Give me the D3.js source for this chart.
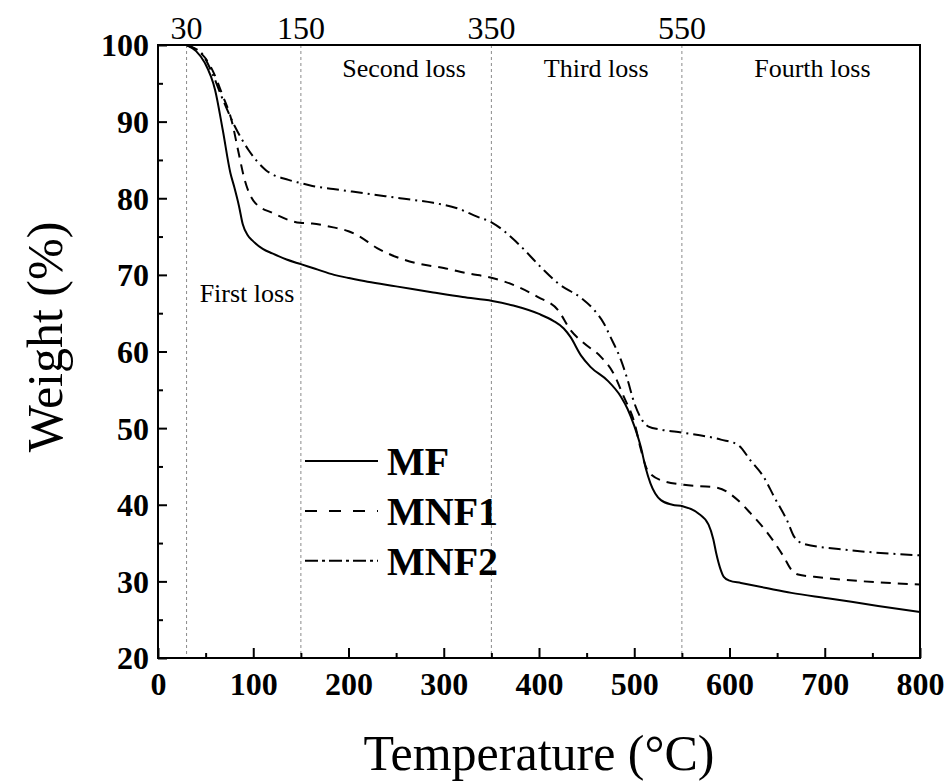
<!DOCTYPE html>
<html>
<head>
<meta charset="utf-8">
<script src="https://cdn.jsdelivr.net/npm/d3@7"></script>
<style>
html,body{margin:0;padding:0;background:#fff;}
svg{display:block;font-family:"Liberation Serif","Times New Roman",serif;}
</style>
</head>
<body>
<svg id="chart" width="950" height="784"></svg>
<script>
// ---- data ----
const seriesNames = ["MF", "MNF1", "MNF2"];
const mfTemp = [30,40,49,60,68,76,80,85,89,94,99,110,120,135,150,165,185,200,220,250,289,320,351,373,400,415,426,433,444,454,472,486,493,500,507,512,517,528,540,551,567,578,583,586,590,594,600,612,640,665,703,756,800];
const mfWeight = [100,99.2,97.7,94.1,88.9,83.3,81.5,79.0,76.6,75.2,74.5,73.4,72.8,72.0,71.4,70.8,70.0,69.6,69.1,68.5,67.7,67.1,66.6,66.0,64.9,64.0,63.0,61.9,59.5,58.0,56.2,54.1,52.5,50.3,47.5,44.8,42.8,40.6,40.0,39.8,38.9,37.4,35.5,33.7,31.8,30.6,30.1,29.8,29.1,28.5,27.8,26.8,26.0];
const mnf1Temp = [30,40,49,58,67,78,84,91,102,120,149,162,184,200,209,230,251,272,300,325,351,373,399,420,433,447,465,478,489,500,507,514,528,552,588,605,622,640,657,665,672,689,741,800];
const mnf1Weight = [100,99.4,98.4,96.5,93.7,89.8,86.3,82.4,79.4,78.1,76.8,76.7,76.2,75.7,75.2,73.5,72.3,71.5,70.9,70.2,69.6,68.7,67.1,65.4,62.8,61.1,59.3,57.2,54.1,50.8,47.2,44.5,43.2,42.6,42.2,41.0,38.9,36.3,33.2,31.5,30.9,30.6,30.0,29.6];
const mnf2Temp = [30,38,46,57,67,81,95,113,137,149,162,184,220,254,289,314,335,351,377,402,420,444,458,468,475,486,493,500,507,515,528,551,591,609,622,636,647,661,668,678,724,800];
const mnf2Weight = [100,99.6,98.9,96.3,93.2,89.3,86.3,83.7,82.4,82.0,81.6,81.2,80.6,80.0,79.4,78.7,77.6,76.8,74.2,71.0,68.9,67.0,65.4,63.7,61.9,58.9,56.3,53.3,51.3,50.2,49.8,49.4,48.5,47.8,45.8,43.6,41.0,37.8,35.8,34.9,34.1,33.4];
const xTicks = [0,100,200,300,400,500,600,700,800];
const xMinorTicks = [50,150,250,350,450,550,650,750];
const yTicks = [20,30,40,50,60,70,80,90,100];
const yMinorTicks = [25,35,45,55,65,75,85,95];
const stageBounds = [30,150,350,550];
const stageLabels = ["First loss","Second loss","Third loss","Fourth loss"];
const stageLabelTemp = [93.4,258.3,460,687];
const stageLabelWeight = [66.5,95.8,95.8,95.8];
const legendWeight = [45.7,39.2,32.7];

// ---- layout ----
const svg = d3.select("#chart");
const m = {left:158, right:920, top:45, bottom:658};
const x = d3.scaleLinear().domain([0,800]).range([m.left, m.right]);
const y = d3.scaleLinear().domain([20,100]).range([m.bottom, m.top]);

// stage boundary lines
svg.append("g").selectAll("line").data(stageBounds).join("line")
  .attr("x1", d=>x(d)).attr("x2", d=>x(d))
  .attr("y1", m.top).attr("y2", m.bottom)
  .attr("stroke", "#8a8a8a").attr("stroke-width", 1).attr("stroke-dasharray", "3,3");

// top labels for stage bounds
svg.append("g").selectAll("text").data(stageBounds).join("text")
  .attr("x", d=>x(d)).attr("y", m.top-6)
  .attr("text-anchor","middle").attr("font-size", 32).text(d=>d);

// stage labels
svg.append("g").selectAll("text").data(stageLabels).join("text")
  .attr("x", (d,i)=>x(stageLabelTemp[i]))
  .attr("y", (d,i)=>y(stageLabelWeight[i]))
  .attr("text-anchor","middle").attr("font-size", 26).text(d=>d);

// series
const series = [
  {name: seriesNames[0], t: mfTemp, w: mfWeight, dash: null},
  {name: seriesNames[1], t: mnf1Temp, w: mnf1Weight, dash: "10,7"},
  {name: seriesNames[2], t: mnf2Temp, w: mnf2Weight, dash: "12,5,2,5"}
];
const line = d3.line().x(d=>x(d[0])).y(d=>y(d[1])).curve(d3.curveMonotoneX);
svg.append("g").selectAll("path").data(series).join("path")
  .attr("d", s => line(s.t.map((t,i)=>[t, s.w[i]])))
  .attr("fill","none").attr("stroke","#000").attr("stroke-width",2)
  .attr("stroke-dasharray", s=>s.dash);

// axes
const fmt = d3.format("d");
const gx = svg.append("g").attr("transform", `translate(0,${m.bottom})`)
  .call(d3.axisBottom(x).tickValues(xTicks).tickFormat(fmt).tickSizeInner(-10).tickSizeOuter(0).tickPadding(14));
const gxm = svg.append("g").attr("transform", `translate(0,${m.bottom})`)
  .call(d3.axisBottom(x).tickValues(xMinorTicks).tickFormat("").tickSizeInner(-5).tickSizeOuter(0));
const gy = svg.append("g").attr("transform", `translate(${m.left},0)`)
  .call(d3.axisLeft(y).tickValues(yTicks).tickFormat(fmt).tickSizeInner(-9).tickSizeOuter(0).tickPadding(9));
const gym = svg.append("g").attr("transform", `translate(${m.left},0)`)
  .call(d3.axisLeft(y).tickValues(yMinorTicks).tickFormat("").tickSizeInner(-5).tickSizeOuter(0));
[gx,gxm,gy,gym].forEach(g=>{
  g.select(".domain").remove();
  g.selectAll("line").attr("stroke","#000").attr("stroke-width",2);
  g.selectAll("text").attr("font-family","Liberation Serif").attr("font-weight","bold").attr("font-size",32).attr("fill","#000");
});
gy.selectAll("text").attr("dy","0.34em");

// frame
svg.append("rect").attr("x",m.left).attr("y",m.top)
  .attr("width",m.right-m.left).attr("height",m.bottom-m.top)
  .attr("fill","none").attr("stroke","#000").attr("stroke-width",2);

// axis titles
svg.append("text").attr("x", 539).attr("y", 770)
  .attr("text-anchor","middle").attr("font-size",50).text("Temperature (°C)");
svg.append("text").attr("transform", `translate(62,337) rotate(-90)`)
  .attr("text-anchor","middle").attr("font-size",50).text("Weight (%)");

// legend
const lg = svg.append("g");
series.forEach((s,i)=>{
  const ly = y(legendWeight[i]);
  lg.append("line").attr("x1",305).attr("x2",378).attr("y1",ly).attr("y2",ly)
    .attr("stroke","#000").attr("stroke-width",2).attr("stroke-dasharray", i===1 ? "12,12" : (i===2 ? "13,4,3,4" : null));
  lg.append("text").attr("x",387).attr("y",ly).attr("dy","0.35em")
    .attr("font-weight","bold").attr("font-size",40).text(s.name);
});
</script>
</body>
</html>
